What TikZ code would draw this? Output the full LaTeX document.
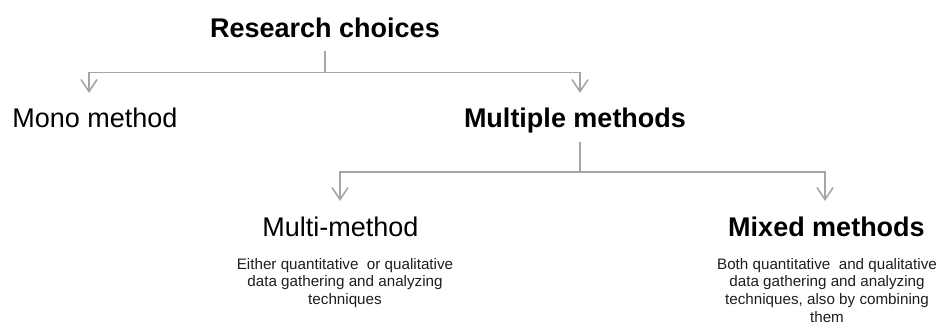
\documentclass[tikz,border=0pt]{standalone}
\usepackage{fontspec}
\setmainfont{Liberation Sans}
\usetikzlibrary{arrows.meta}

\definecolor{linegray}{RGB}{166,166,166}
\definecolor{notegray}{RGB}{30,30,30}

\tikzset{
  choice/.style={inner sep=0pt,anchor=base,font=\fontsize{27}{30}\selectfont},
  bigchoice/.style={choice,font=\bfseries\fontsize{27}{30}\selectfont},
  note/.style={inner sep=0pt,anchor=north,align=center,text=notegray,
    font=\fontsize{15.2}{17.7}\selectfont},
  link/.style={draw=linegray,line width=1.6pt},
  branch/.style={link,-{Straight Barb[length=12pt,width=16pt,line width=1.6pt]}}
}

\begin{document}
\begin{tikzpicture}[x=1pt,y=-1pt]
      \useasboundingbox (0,0) rectangle (939,324);
      \draw
        (325,37) node[bigchoice] (rc){Research choices}
        (95,127) node[choice] (mono){Mono method}
        (575,127) node[bigchoice] (multiple){Multiple methods}
        (340.5,236.5) node[choice] (multi){Multi-method}
        (826.5,236.5) node[bigchoice] (mixed){Mixed methods};
      \node[note] (multinote) at (345,258)
        {Either quantitative~ or qualitative\\data gathering and analyzing\\techniques};
      \node[note] (mixednote) at (827,258)
        {Both quantitative~ and qualitative\\data gathering and analyzing\\techniques, also by combining\\them};
      \coordinate (rcfork) at (325,72.5);
      \coordinate (monotip) at (89,93);
      \coordinate (multipletip) at (580,93);
      \coordinate (mmfork) at (580,172);
      \coordinate (multitip) at (340,201);
      \coordinate (mixedtip) at (825,201);
      \begin{scope}
        \draw[link] ([yshift=-14pt]rc.base) -- (rcfork);
        \draw[branch] (rcfork) -| (monotip);
        \draw[branch] (rcfork) -| (multipletip);
        \draw[link] ([yshift=-15pt]multiple.base -| mmfork) -- (mmfork);
        \draw[branch] (mmfork) -| (multitip);
        \draw[branch] (mmfork) -| (mixedtip);
      \end{scope}
    \end{tikzpicture}
\end{document}
